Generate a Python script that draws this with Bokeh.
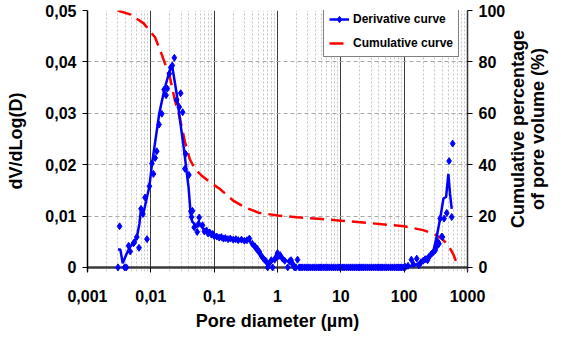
import math
from bokeh.plotting import figure
from bokeh.layouts import row
from bokeh.models import Range1d, LinearAxis, FixedTicker, Legend, LegendItem, Span
from bokeh.core.properties import value
from bokeh.embed import file_html
from bokeh.resources import INLINE

# ---- data ----
deriv_d = [0.00303, 0.00321, 0.00385, 0.0041, 0.00446, 0.00473, 0.00533, 0.0055, 0.0060, 0.0065,
           0.0070, 0.0075, 0.0081, 0.0087, 0.0095, 0.0104, 0.0110, 0.0117, 0.0124, 0.0135,
           0.0149, 0.0162, 0.0174, 0.0182, 0.0196, 0.0206, 0.0218, 0.0235, 0.0256, 0.0281,
           0.0296, 0.0318, 0.0345, 0.0354, 0.0399, 0.0429, 0.0440, 0.0455, 0.0484, 0.0540,
           0.0567, 0.0580, 0.0655, 0.0700, 0.0757,
           0.080, 0.085, 0.090, 0.095, 0.100, 0.110, 0.120, 0.130, 0.140, 0.150,
           0.165, 0.180, 0.200, 0.220, 0.240, 0.270, 0.300, 0.330, 0.360, 0.400,
           0.440, 0.480, 0.520, 0.560, 0.600, 0.650, 0.700, 0.750, 0.800, 0.840,
           0.900, 0.950, 1.000, 1.050, 1.100, 1.200, 1.300, 1.450, 1.550, 1.640,
           1.750, 2.070,
           105, 115, 130, 140, 158, 170, 185, 200, 215, 234, 250, 273, 290, 309, 325,
           340, 355, 370, 392, 402, 427, 470, 512, 563, 583]
deriv_v = [0.0, 0.0080, 0.0, 0.0, 0.0042, 0.0031, 0.0047, 0.0049, 0.0059, 0.0038,
           0.0114, 0.0104, 0.0136, 0.0055, 0.0158, 0.0202, 0.0182, 0.0213, 0.0226, 0.0278,
           0.0299, 0.0346, 0.0335, 0.0348, 0.0377, 0.0389, 0.0393, 0.0408, 0.0326, 0.0312,
           0.0339, 0.0302, 0.0192, 0.0221, 0.0180, 0.0109, 0.0098, 0.0110, 0.0078, 0.0069,
           0.0085, 0.0097, 0.0082, 0.0070, 0.0072,
           0.0066, 0.0068, 0.0064, 0.0065, 0.0061, 0.0060, 0.0058, 0.0059, 0.0056, 0.0057,
           0.0055, 0.0056, 0.0054, 0.0055, 0.0053, 0.0054, 0.0052, 0.0053, 0.0056, 0.0046,
           0.0041, 0.0036, 0.0030, 0.0022, 0.0017, 0.0013, 0.0000, 0.0009, 0.0014, 0.0000,
           0.0015, 0.0020, 0.0028, 0.0022, 0.0024, 0.0017, 0.0013, 0.0000, 0.0012, 0.0014,
           0.0006, 0.0015,
           0.0001, 0.0003, 0.0015, 0.0006, 0.0017, 0.0004, 0.0010, 0.0013, 0.0016, 0.0014,
           0.0021, 0.0027, 0.0030, 0.0033, 0.0040, 0.0050, 0.0046, 0.0095, 0.0060, 0.0059,
           0.0095, 0.0106, 0.0207, 0.0098, 0.0241]

# diameters where the derivative is zero (1.8 to 100 um)
zero_d = [1.85, 1.95, 2.2, 2.35, 2.5, 2.7, 2.9, 3.1, 3.3, 3.55, 3.8, 4.1, 4.4, 4.7, 5.0, 5.4,
          5.8, 6.2, 6.6, 7.1, 7.6, 8.2, 8.8, 9.4, 10, 10.8, 11.5, 12.4, 13.3, 14.2, 15.2, 16.3,
          17.5, 18.8, 20, 21.5, 23, 24.7, 26.5, 28.4, 30.4, 32.6, 35, 37.5, 40, 43, 46, 49.4,
          53, 56.8, 61, 65, 70, 75, 80, 86, 92, 99]
zero_v = [0.0] * len(zero_d)

# smoothed derivative line
trend_d = [0.00303, 0.0033, 0.0036, 0.0041, 0.0046, 0.0052, 0.0060, 0.0066, 0.0070, 0.0075,
           0.0086, 0.0095, 0.0104, 0.0136, 0.0165, 0.0206, 0.0220, 0.0256, 0.0289, 0.0335,
           0.0394, 0.0425, 0.0450, 0.0540, 0.0593, 0.0700, 0.0800, 0.1000, 0.1300, 0.2000,
           0.3000, 0.3600, 0.4600, 0.5800, 0.7000, 0.7900, 1.0000, 1.2100, 1.5300, 1.8300,
           100, 150, 215, 290, 327, 370, 417, 459, 499, 530, 563]
trend_v = [0.0035, 0.0035, 0.0008, 0.0025, 0.0038, 0.0047, 0.0058, 0.0085, 0.0114, 0.0101,
           0.0134, 0.0158, 0.0200, 0.0300, 0.0348, 0.0390, 0.0388, 0.0338, 0.0286, 0.0228,
           0.0156, 0.0105, 0.0089, 0.0079, 0.0084, 0.0072, 0.0068, 0.0062, 0.0058, 0.0055,
           0.0053, 0.0052, 0.0033, 0.0017, 0.0004, 0.0009, 0.0023, 0.0017, 0.0010, 0.0000,
           0.0, 0.0004, 0.0017, 0.0033, 0.0060, 0.0095, 0.0134, 0.0137, 0.0182, 0.0143, 0.0114]

# cumulative percentage of pore volume
cum_d = [0.0030, 0.0047, 0.0077, 0.0117, 0.0148, 0.020, 0.024, 0.0288, 0.0345, 0.0414,
         0.0495, 0.063, 0.085, 0.122, 0.2, 0.3, 0.5, 1.0, 2.0, 5.0, 10.0, 30.0, 100.0,
         200.0, 300.0, 400.0, 500.0, 600.0, 716.0]
cum_pct = [100, 98.5, 95, 89.5, 83, 74, 65, 58, 49, 42,
           38.5, 35.8, 33.2, 30.6, 26, 23.5, 21.3, 20.2, 19.5, 18.8, 18.2, 17.2, 16,
           14.5, 13, 11, 8.5, 5, 0]

x_ticks = [0.001, 0.01, 0.1, 1, 10, 100, 1000]
x_labels = ["0,001", "0,01", "0,1", "1", "10", "100", "1000"]
y_ticks = [0, 0.01, 0.02, 0.03, 0.04, 0.05]
y_labels = ["0", "0,01", "0,02", "0,03", "0,04", "0,05"]
y2_ticks = [0, 20, 40, 60, 80, 100]
right_title = "Cumulative percentage\nof pore volume (%)"

FONT = "Liberation Sans"
BLUE = "#0000FF"
RED = "#FF0000"
H = 337

p = figure(width=508, height=H, x_axis_type="log",
           x_range=Range1d(0.001, 1000), y_range=Range1d(-0.0008, 0.05),
           output_backend="svg", toolbar_location=None,
           min_border_left=87, min_border_right=39, min_border_top=10, min_border_bottom=66)
p.outline_line_color = None
p.background_fill_color = "white"
p.extra_y_ranges = {"cum": Range1d(-1.6, 100)}

minor = []
for dec in [0.001, 0.01, 0.1, 1, 10, 100]:
    for k in range(2, 10):
        minor.append(dec * k)
xt = FixedTicker(ticks=x_ticks, minor_ticks=minor)

# grids
p.xgrid.ticker = xt
p.xgrid.grid_line_color = "#3a3a3a"
p.xgrid.grid_line_width = 1
p.xgrid.minor_grid_line_color = "#c4c4c4"
p.xgrid.minor_grid_line_dash = "2 2"
p.ygrid.ticker = FixedTicker(ticks=y_ticks)
p.ygrid.grid_line_color = "#a8a8a8"
p.ygrid.grid_line_dash = "4 3"

# x axis
xa = p.xaxis[0]
xa.ticker = xt
xa.major_label_overrides = {t: l for t, l in zip(x_ticks, x_labels)}
xa.axis_line_color = None
xa.major_tick_in = 4
xa.major_tick_out = 1
xa.major_tick_line_color = "black"
xa.minor_tick_line_color = None
xa.major_label_standoff = 14
xa.major_label_text_font = FONT
xa.major_label_text_font_style = "bold"
xa.major_label_text_font_size = "16px"
xa.major_label_text_color = "black"
xa.axis_label = "Pore diameter (\u00b5m)"
xa.axis_label_text_font = FONT
xa.axis_label_text_font_style = "bold"
xa.axis_label_text_font_size = "18px"
xa.axis_label_text_color = "black"
xa.axis_label_standoff = 6

# left axis
ya = p.yaxis[0]
ya.ticker = FixedTicker(ticks=y_ticks)
ya.major_label_overrides = {t: l for t, l in zip(y_ticks, y_labels)}
ya.axis_line_color = "black"
ya.axis_line_width = 1.5
ya.major_tick_in = 0
ya.major_tick_out = 5
ya.minor_tick_line_color = None
ya.major_label_standoff = 6
ya.major_label_text_font = FONT
ya.major_label_text_font_style = "bold"
ya.major_label_text_font_size = "16px"
ya.major_label_text_color = "black"
ya.axis_label = "dV/dLog(D)"
ya.axis_label_text_font = FONT
ya.axis_label_text_font_style = "bold"
ya.axis_label_text_font_size = "18px"
ya.axis_label_text_color = "black"
ya.axis_label_standoff = 16

# right axis (ticks only; its title is drawn in the side panel)
ra = LinearAxis(y_range_name="cum", ticker=FixedTicker(ticks=y2_ticks))
ra.axis_line_color = "#333333"
ra.axis_line_width = 1.5
ra.major_tick_in = 0
ra.major_tick_out = 5
ra.minor_tick_line_color = None
ra.major_label_standoff = 6
ra.major_label_text_font = FONT
ra.major_label_text_font_style = "bold"
ra.major_label_text_font_size = "16px"
ra.major_label_text_color = "black"
p.add_layout(ra, "right")

# x axis line drawn at y = 0
zero_line = Span(location=0, dimension="width", line_color="#3a3a3a", line_width=2.5,
                 level="underlay")
p.add_layout(zero_line)

# data glyphs
cum_r = p.line(cum_d, cum_pct, y_range_name="cum", line_color=RED, line_width=2.5,
               line_dash="14 7")
trend_r = p.line(trend_d, trend_v, line_color=BLUE, line_width=2.5)
pts_r = p.scatter(deriv_d + zero_d, deriv_v + zero_v, marker="diamond", size=7,
                  fill_color=BLUE, line_color=BLUE)

legend = Legend(items=[LegendItem(label="Derivative curve", renderers=[trend_r, pts_r]),
                       LegendItem(label="Cumulative curve", renderers=[cum_r])],
                location=(236, 214))
legend.label_text_font = FONT
legend.label_text_font_style = "bold"
legend.label_text_font_size = "12px"
legend.label_text_color = "black"
legend.border_line_color = "black"
legend.border_line_width = 1
legend.background_fill_color = "white"
legend.background_fill_alpha = 1
legend.glyph_width = 20
legend.glyph_height = 16
legend.label_standoff = 4
legend.label_height = 16
legend.padding = 5
legend.spacing = 8
legend.margin = 0
p.add_layout(legend)

# side panel holding the right-hand axis title (reads bottom to top)
SW = 45
side = figure(width=SW, height=H, x_range=Range1d(0, SW), y_range=Range1d(0, H),
              output_backend="svg", toolbar_location=None,
              min_border=0, min_border_left=0, min_border_right=0,
              min_border_top=0, min_border_bottom=0)
side.axis.visible = False
side.grid.visible = False
side.outline_line_color = None
side.text(x=[19], y=[H - 153], text=[right_title], angle=math.pi / 2,
          text_align="center", text_baseline="middle",
          text_font=value(FONT), text_font_style="bold", text_font_size="18px",
          text_color="black", text_line_height=1.0)

layout = row(p, side, spacing=0)
open("out.html", "w").write(file_html(layout, INLINE))
